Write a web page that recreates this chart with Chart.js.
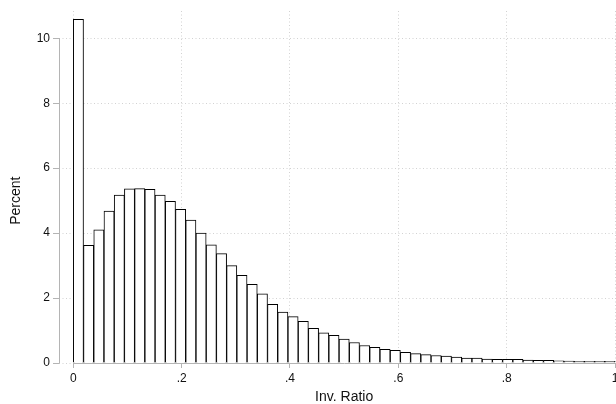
<!DOCTYPE html>
<html>
<head>
<meta charset="utf-8">
<script src="https://cdn.jsdelivr.net/npm/chart.js@4"></script>
<style>
  html, body { margin: 0; padding: 0; background: #fff; }
  #wrap { width: 616px; height: 404px; }
</style>
</head>
<body>
<div id="wrap"><canvas id="hist"></canvas></div>
<script>
// ================= DATA =================
// bin centres (53 equal bins over 0..1)
const binCenters = [
  0.009434, 0.028302, 0.047170, 0.066038, 0.084906, 0.103774, 0.122642, 0.141509,
  0.160377, 0.179245, 0.198113, 0.216981, 0.235849, 0.254717, 0.273585, 0.292453,
  0.311321, 0.330189, 0.349057, 0.367925, 0.386792, 0.405660, 0.424528, 0.443396,
  0.462264, 0.481132, 0.500000, 0.518868, 0.537736, 0.556604, 0.575472, 0.594340,
  0.613208, 0.632075, 0.650943, 0.669811, 0.688679, 0.707547, 0.726415, 0.745283,
  0.764151, 0.783019, 0.801887, 0.820755, 0.839623, 0.858491, 0.877358, 0.896226,
  0.915094, 0.933962, 0.952830, 0.971698, 0.990566
];
const percents = [
  10.58, 3.62, 4.10, 4.68, 5.17, 5.36, 5.37, 5.35,
  5.17, 4.98, 4.73, 4.40, 4.00, 3.64, 3.37, 3.00,
  2.70, 2.42, 2.13, 1.81, 1.57, 1.43, 1.28, 1.07,
  0.93, 0.85, 0.74, 0.63, 0.54, 0.48, 0.42, 0.39,
  0.33, 0.29, 0.26, 0.23, 0.21, 0.18, 0.15, 0.15,
  0.12, 0.11, 0.11, 0.11, 0.09, 0.08, 0.08, 0.07,
  0.06, 0.05, 0.05, 0.05, 0.05
];
const xTickValues = [0, 0.2, 0.4, 0.6, 0.8, 1];
const xTickLabels = ["0", ".2", ".4", ".6", ".8", "1"];
const yTickValues = [0, 2, 4, 6, 8, 10];
const xTitle = "Inv. Ratio";
const yTitle = "Percent";

const FONT = '"Liberation Sans", Arial, Helvetica, sans-serif';
const AXIS_GRAY = "#b4b4b4";

// ================= AXES + TITLES (stata look) =================
const stataAxes = {
  id: "stataAxes",
  afterDatasetsDraw(chart){
    const {ctx, chartArea, scales:{x, y}} = chart;
    const xa = x.getPixelForValue(xTickValues[0]);
    const xb = x.getPixelForValue(xTickValues[xTickValues.length-1]);
    const y0 = y.getPixelForValue(yTickValues[0]);
    const y1 = y.getPixelForValue(yTickValues[yTickValues.length-1]);
    const left = Math.round(chartArea.left) + 0.5;
    const bottom = Math.round(y0) + 0.5;
    ctx.save();
    ctx.strokeStyle = AXIS_GRAY;
    ctx.lineWidth = 1;
    ctx.beginPath();
    ctx.moveTo(left, bottom); ctx.lineTo(left, Math.round(y1));
    ctx.moveTo(Math.round(xa), bottom); ctx.lineTo(Math.round(xb)+1, bottom);
    ctx.stroke();
    ctx.restore();
  },
  afterDraw(chart){
    const {ctx, scales:{x, y}} = chart;
    ctx.save();
    ctx.fillStyle = "#111";
    ctx.font = "14px " + FONT;
    ctx.textAlign = "center";
    ctx.textBaseline = "alphabetic";
    const xm = x.getPixelForValue((xTickValues[0] + xTickValues[xTickValues.length-1]) / 2);
    ctx.fillText(xTitle, xm, 401);
    const ym = y.getPixelForValue((yTickValues[0] + yTickValues[yTickValues.length-1]) / 2);
    ctx.translate(20, ym);
    ctx.rotate(-Math.PI/2);
    ctx.fillText(yTitle, 0, 0);
    ctx.restore();
  }
};

// ================= CHART =================
new Chart(document.getElementById("hist"), {
  type: "bar",
  data: {
    datasets: [{
      data: binCenters.map((c, i) => ({x: c, y: percents[i]})),
      backgroundColor: "#ffffff",
      borderColor: "#000000",
      borderWidth: 1,
      barPercentage: 1,
      categoryPercentage: 1
    }]
  },
  options: {
    responsive: true,
    maintainAspectRatio: false,
    animation: false,
    layout: { padding: { top: 11, left: 0, right: 0, bottom: 0 } },
    plugins: { legend: { display: false }, tooltip: { enabled: false } },
    scales: {
      x: {
        type: "linear",
        min: -0.0264,
        max: 1.0018,
        offset: false,
        afterBuildTicks: s => { s.ticks = xTickValues.map(v => ({value: v})); },
        afterFit: s => { s.height = 41; s.paddingLeft = 0; s.paddingRight = 0; },
        ticks: {
          autoSkip: false, maxRotation: 0, padding: 3, color: "#111",
          font: { family: FONT, size: 12 },
          callback: v => xTickLabels[xTickValues.indexOf(v)]
        },
        grid: { offset: false, color: "#d2d2d2", lineWidth: 1, tickLength: 5,
                tickColor: AXIS_GRAY, tickBorderDash: [] },
        border: { display: false, dash: [1, 2.5] }
      },
      y: {
        min: 0,
        max: 10.84,
        afterBuildTicks: s => { s.ticks = yTickValues.map(v => ({value: v})); },
        afterFit: s => { s.width = 59; },
        ticks: {
          padding: 3, color: "#111",
          font: { family: FONT, size: 12 }
        },
        grid: { color: "#d2d2d2", lineWidth: 1, tickLength: 6,
                tickColor: AXIS_GRAY, tickBorderDash: [] },
        border: { display: false, dash: [1, 2.5] }
      }
    }
  },
  plugins: [stataAxes]
});
</script>
</body>
</html>
